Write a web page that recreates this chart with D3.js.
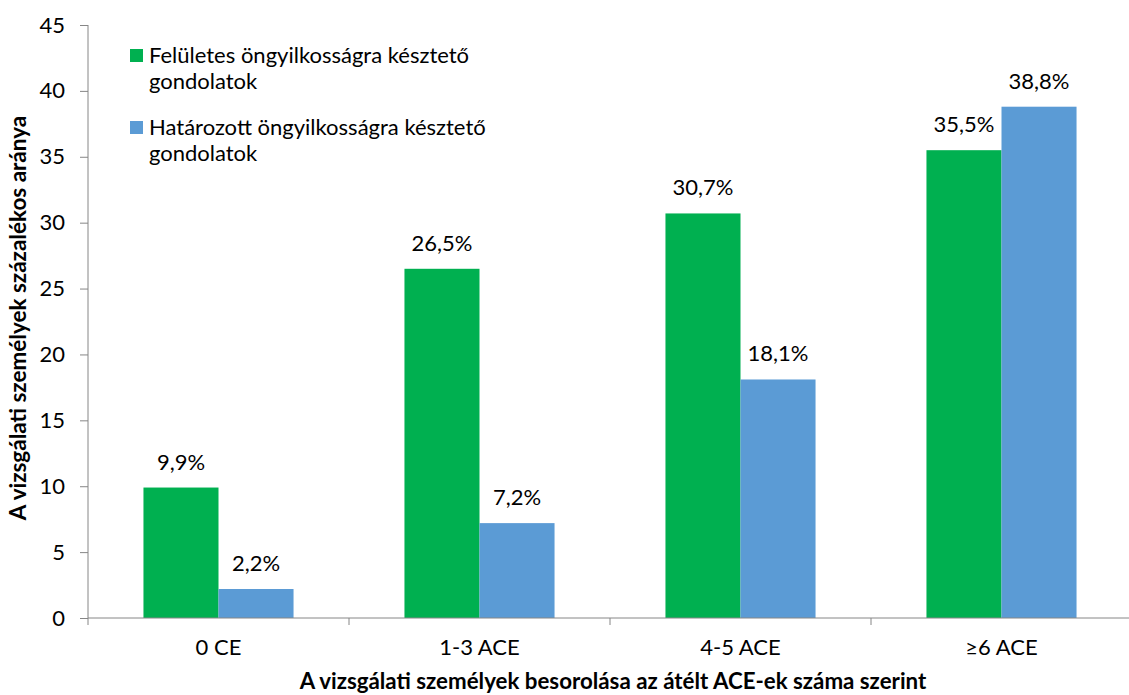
<!DOCTYPE html>
<meta charset="utf-8">
<head>
  <script src="https://cdn.jsdelivr.net/npm/d3@7"></script>
  <style>
    body { margin: 0; background: #fff; }
    svg text { font-family: Lato, "Open Sans", sans-serif; fill: #000; }
    .axis path, .axis line { stroke: #868686; }
    .title { font-weight: bold; }
  </style>
</head>
<body>
  <div id="viz"></div>
  <script>
    // Values
    var categories = ["0 CE", "1-3 ACE", "4-5 ACE", "\u22656 ACE"];
    var seriesNames = ["Felületes öngyilkosságra késztető gondolatok", "Határozott öngyilkosságra késztető gondolatok"];
    var legendLines = [["Felületes öngyilkosságra késztető", "gondolatok"], ["Határozott öngyilkosságra késztető", "gondolatok"]];
    var superficial = [9.9, 26.5, 30.7, 35.5];
    var definite = [2.2, 7.2, 18.1, 38.8];
    var yTicks = [0, 5, 10, 15, 20, 25, 30, 35, 40, 45];
    var colors = ["#00B050", "#5B9BD5"];

    var config = { width: 1129, height: 695 };
    var plot = { left: 88, right: 1132, top: 25, bottom: 618 };

    var svg = d3.select("#viz").append("svg")
      .attr("width", config.width)
      .attr("height", config.height);

    var x = d3.scaleBand()
      .domain(categories)
      .range([plot.left, plot.right])
      .paddingInner(0.425)
      .paddingOuter(0.2125);

    var xSeries = d3.scaleBand()
      .domain([0, 1])
      .range([0, x.bandwidth()]);

    var y = d3.scaleLinear()
      .domain([0, 45])
      .range([plot.bottom, plot.top]);

    // y axis
    var yAxis = svg.append("g")
      .attr("class", "axis")
      .attr("transform", "translate(" + plot.left + ",0)")
      .call(d3.axisLeft(y).tickValues(yTicks).tickSize(8).tickSizeOuter(0).tickPadding(15));
    yAxis.selectAll("text").attr("font-size", 22);
    yAxis.select(".domain").attr("d", "M0," + y(45) + "V" + y(0));

    // bars
    var data = categories.map(function(c, i) {
      return { cat: c, values: [superficial[i], definite[i]] };
    });

    var groups = svg.selectAll(".group")
      .data(data)
      .enter().append("g")
      .attr("class", "group")
      .attr("transform", function(d) { return "translate(" + x(d.cat) + ",0)"; });

    groups.selectAll("rect")
      .data(function(d) { return d.values; })
      .enter().append("rect")
      .attr("x", function(d, i) { return xSeries(i); })
      .attr("y", function(d) { return y(d); })
      .attr("width", xSeries.bandwidth())
      .attr("height", function(d) { return y(0) - y(d); })
      .attr("fill", function(d, i) { return colors[i]; });

    groups.selectAll(".label")
      .data(function(d) { return d.values; })
      .enter().append("text")
      .attr("class", "label")
      .attr("x", function(d, i) { return xSeries(i) + xSeries.bandwidth() / 2; })
      .attr("y", function(d) { return y(d) - 18; })
      .attr("text-anchor", "middle")
      .attr("font-size", 22)
      .text(function(d) { return d.toFixed(1).replace(".", ",") + "%"; });

    // x axis: line and ticks at the category boundaries
    var xAxis = svg.append("g").attr("class", "axis");
    xAxis.append("line")
      .attr("x1", plot.left).attr("x2", plot.right)
      .attr("y1", y(0)).attr("y2", y(0));
    d3.range(categories.length + 1).forEach(function(i) {
      var xp = plot.left + i * x.step();
      xAxis.append("line")
        .attr("x1", xp).attr("x2", xp)
        .attr("y1", y(0)).attr("y2", y(0) + 7);
    });
    svg.selectAll(".cat")
      .data(categories)
      .enter().append("text")
      .attr("class", "cat")
      .attr("x", function(d) { return x(d) + x.bandwidth() / 2; })
      .attr("y", 655)
      .attr("text-anchor", "middle")
      .attr("font-size", 22)
      .text(function(d) { return d; });

    // axis titles
    svg.append("text")
      .attr("class", "title")
      .attr("x", 613)
      .attr("y", 689)
      .attr("text-anchor", "middle")
      .attr("font-size", 22.3)
      .text("A vizsgálati személyek besorolása az átélt ACE-ek száma szerint");

    svg.append("text")
      .attr("class", "title")
      .attr("transform", "translate(26,318) rotate(-90)")
      .attr("text-anchor", "middle")
      .attr("font-size", 22.5)
      .text("A vizsgálati személyek százalékos aránya");

    // legend
    var legend = svg.selectAll(".legend")
      .data(seriesNames)
      .enter().append("g")
      .attr("class", "legend")
      .attr("transform", function(d, i) { return "translate(130," + (49 + i * 72) + ")"; });
    legend.append("rect")
      .attr("width", 13).attr("height", 13)
      .attr("fill", function(d, i) { return colors[i]; });
    legend.append("text")
      .attr("x", 19)
      .attr("y", 14)
      .attr("font-size", 22)
      .selectAll("tspan")
      .data(function(d, i) { return legendLines[i]; })
      .enter().append("tspan")
      .attr("x", 19)
      .attr("dy", function(d, j) { return j === 0 ? 0 : 26; })
      .text(function(d) { return d; });
  </script>
</body>
